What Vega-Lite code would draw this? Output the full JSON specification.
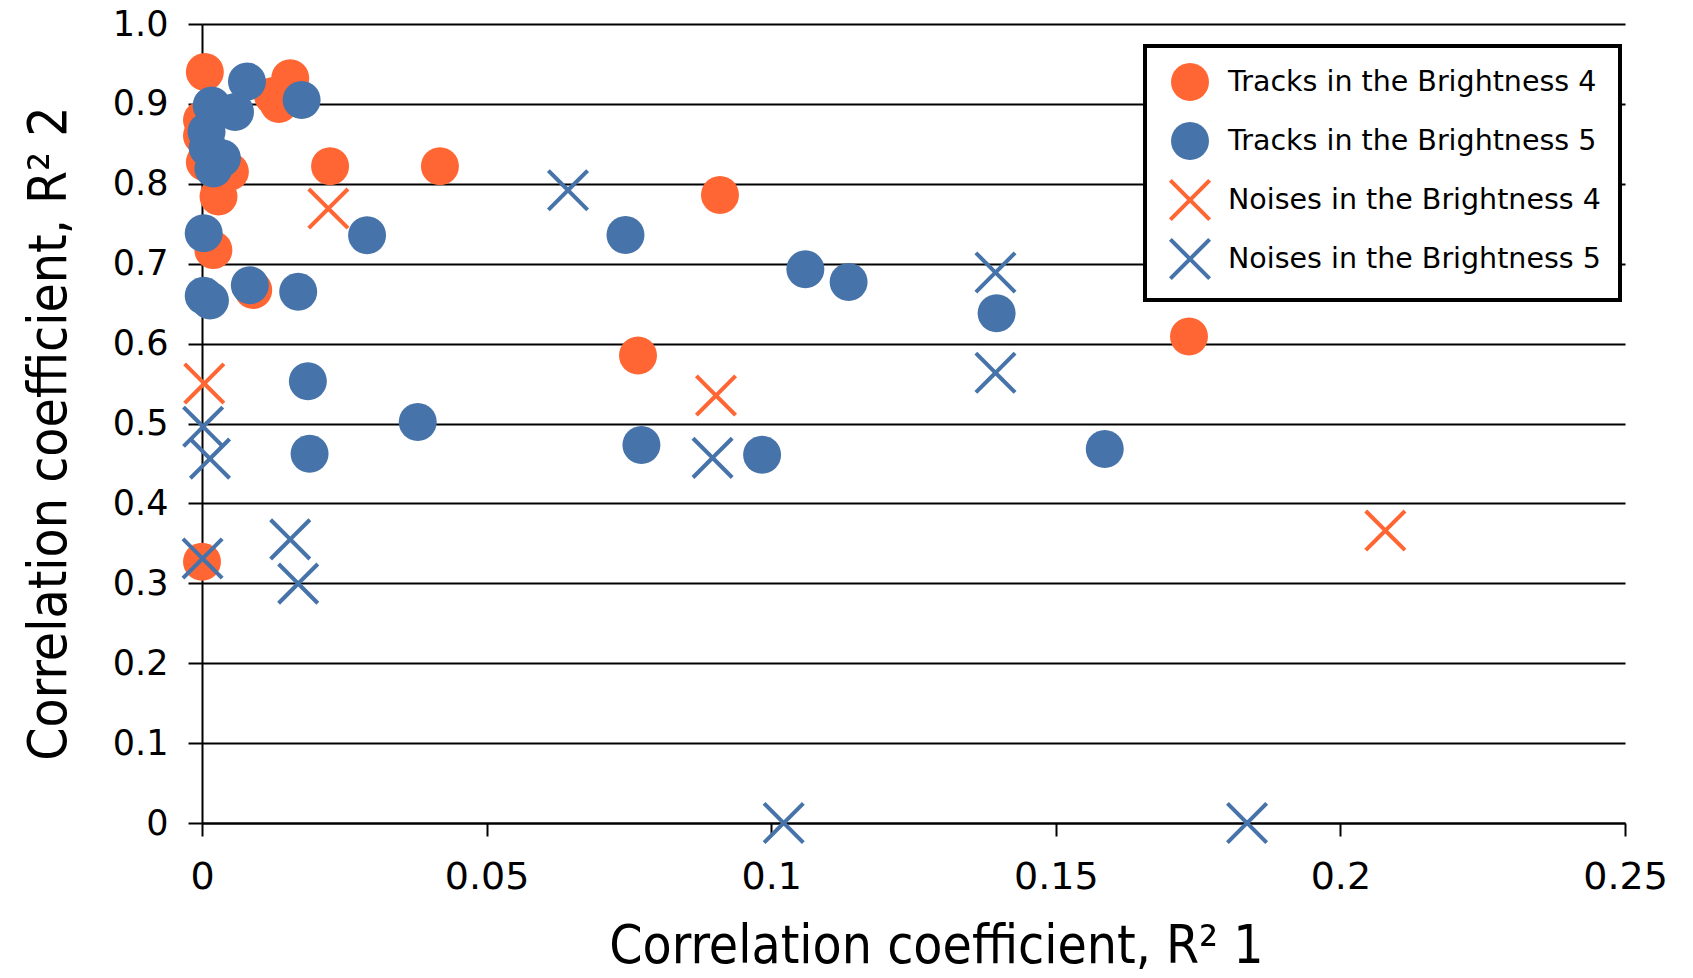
{
  "$schema": "https://vega.github.io/schema/vega-lite/v6.json",
  "width": 1423,
  "height": 799,
  "autosize": {"type": "none"},
  "padding": {"left": 202, "top": 24, "right": 68, "bottom": 155},
  "background": "white",
  "config": {"view": {"stroke": null}},
  "data": {
    "values": [
      {"series": "Tracks in the Brightness 4", "r1": 0.0005, "r2": 0.94},
      {"series": "Tracks in the Brightness 4", "r1": 0.0155, "r2": 0.932},
      {"series": "Tracks in the Brightness 4", "r1": 0.0125, "r2": 0.91},
      {"series": "Tracks in the Brightness 4", "r1": 0.0135, "r2": 0.9},
      {"series": "Tracks in the Brightness 4", "r1": 0.0, "r2": 0.88},
      {"series": "Tracks in the Brightness 4", "r1": 0.0, "r2": 0.86},
      {"series": "Tracks in the Brightness 4", "r1": 0.0005, "r2": 0.827},
      {"series": "Tracks in the Brightness 4", "r1": 0.0049, "r2": 0.815},
      {"series": "Tracks in the Brightness 4", "r1": 0.0029, "r2": 0.784},
      {"series": "Tracks in the Brightness 4", "r1": 0.0225, "r2": 0.822},
      {"series": "Tracks in the Brightness 4", "r1": 0.0418, "r2": 0.822},
      {"series": "Tracks in the Brightness 4", "r1": 0.002, "r2": 0.717},
      {"series": "Tracks in the Brightness 4", "r1": 0.009, "r2": 0.667},
      {"series": "Tracks in the Brightness 4", "r1": 0.091, "r2": 0.786},
      {"series": "Tracks in the Brightness 4", "r1": 0.0766, "r2": 0.585},
      {"series": "Tracks in the Brightness 4", "r1": 0.1734, "r2": 0.609},
      {"series": "Tracks in the Brightness 4", "r1": 0.0, "r2": 0.327},
      {"series": "Tracks in the Brightness 5", "r1": 0.0079, "r2": 0.928},
      {"series": "Tracks in the Brightness 5", "r1": 0.0175, "r2": 0.905},
      {"series": "Tracks in the Brightness 5", "r1": 0.0017, "r2": 0.898},
      {"series": "Tracks in the Brightness 5", "r1": 0.0058, "r2": 0.89},
      {"series": "Tracks in the Brightness 5", "r1": 0.0008, "r2": 0.865},
      {"series": "Tracks in the Brightness 5", "r1": 0.001, "r2": 0.845},
      {"series": "Tracks in the Brightness 5", "r1": 0.0035, "r2": 0.832},
      {"series": "Tracks in the Brightness 5", "r1": 0.002, "r2": 0.819},
      {"series": "Tracks in the Brightness 5", "r1": 0.0003, "r2": 0.738},
      {"series": "Tracks in the Brightness 5", "r1": 0.029, "r2": 0.7355},
      {"series": "Tracks in the Brightness 5", "r1": 0.0003, "r2": 0.66},
      {"series": "Tracks in the Brightness 5", "r1": 0.0014, "r2": 0.654},
      {"series": "Tracks in the Brightness 5", "r1": 0.0084, "r2": 0.673},
      {"series": "Tracks in the Brightness 5", "r1": 0.0169, "r2": 0.665},
      {"series": "Tracks in the Brightness 5", "r1": 0.0744, "r2": 0.736},
      {"series": "Tracks in the Brightness 5", "r1": 0.106, "r2": 0.693},
      {"series": "Tracks in the Brightness 5", "r1": 0.1136, "r2": 0.677},
      {"series": "Tracks in the Brightness 5", "r1": 0.1396, "r2": 0.638},
      {"series": "Tracks in the Brightness 5", "r1": 0.0186, "r2": 0.553},
      {"series": "Tracks in the Brightness 5", "r1": 0.0189, "r2": 0.462},
      {"series": "Tracks in the Brightness 5", "r1": 0.0379, "r2": 0.502},
      {"series": "Tracks in the Brightness 5", "r1": 0.0772, "r2": 0.473},
      {"series": "Tracks in the Brightness 5", "r1": 0.0984, "r2": 0.461},
      {"series": "Tracks in the Brightness 5", "r1": 0.1586, "r2": 0.468},
      {"series": "Noises in the Brightness 4", "r1": 0.0222, "r2": 0.769},
      {"series": "Noises in the Brightness 4", "r1": 0.0004, "r2": 0.55},
      {"series": "Noises in the Brightness 4", "r1": 0.0903, "r2": 0.535},
      {"series": "Noises in the Brightness 4", "r1": 0.2079, "r2": 0.366},
      {"series": "Noises in the Brightness 5", "r1": 0.0643, "r2": 0.792},
      {"series": "Noises in the Brightness 5", "r1": 0.1394, "r2": 0.689},
      {"series": "Noises in the Brightness 5", "r1": 0.1394, "r2": 0.5635},
      {"series": "Noises in the Brightness 5", "r1": 0.0897, "r2": 0.457},
      {"series": "Noises in the Brightness 5", "r1": 0.0002, "r2": 0.496},
      {"series": "Noises in the Brightness 5", "r1": 0.0014, "r2": 0.456},
      {"series": "Noises in the Brightness 5", "r1": 0.0001, "r2": 0.331},
      {"series": "Noises in the Brightness 5", "r1": 0.0155, "r2": 0.355},
      {"series": "Noises in the Brightness 5", "r1": 0.0169, "r2": 0.2996},
      {"series": "Noises in the Brightness 5", "r1": 0.1022, "r2": 0.0},
      {"series": "Noises in the Brightness 5", "r1": 0.1836, "r2": 0.0}
    ]
  },
  "mark": {"type": "point", "filled": true, "opacity": 1, "size": 1134, "strokeWidth": 0},
  "encoding": {
    "x": {
      "field": "r1",
      "type": "quantitative",
      "scale": {"domain": [0, 0.25], "nice": false},
      "axis": {
        "values": [0, 0.05, 0.1, 0.15, 0.2, 0.25],
        "format": "~g",
        "grid": false,
        "domainColor": "black",
        "domainWidth": 2,
        "tickColor": "black",
        "tickWidth": 2,
        "tickSize": 13,
        "labelFont": "DejaVu Sans",
        "labelFontSize": 38,
        "labelColor": "black",
        "labelPadding": 22,
        "labelFlush": false,
        "labelOverlap": false,
        "title": "Correlation coefficient, R² 1",
        "titleFont": "DejaVu Sans Condensed",
        "titleFontSize": 53,
        "titleFontWeight": "normal",
        "titleColor": "black",
        "titlePadding": 24,
        "titleX": 734
      }
    },
    "y": {
      "field": "r2",
      "type": "quantitative",
      "scale": {"domain": [0, 1], "nice": false},
      "axis": {
        "values": [0, 0.1, 0.2, 0.3, 0.4, 0.5, 0.6, 0.7, 0.8, 0.9, 1.0],
        "labelExpr": "datum.value == 0 ? '0' : format(datum.value, '.1f')",
        "grid": true,
        "gridColor": "black",
        "gridWidth": 2,
        "gridOpacity": 1,
        "domainColor": "black",
        "domainWidth": 2,
        "tickColor": "black",
        "tickWidth": 2,
        "tickSize": 14,
        "labelFont": "DejaVu Sans",
        "labelFontSize": 35,
        "labelColor": "black",
        "labelPadding": 20,
        "labelFlush": false,
        "labelOverlap": false,
        "title": "Correlation coefficient, R² 2",
        "titleFont": "DejaVu Sans Condensed",
        "titleFontSize": 53,
        "titleFontWeight": "normal",
        "titleColor": "black",
        "titlePadding": 36,
        "titleY": 409
      }
    },
    "color": {
      "field": "series",
      "type": "nominal",
      "scale": {
        "domain": ["Tracks in the Brightness 4", "Tracks in the Brightness 5", "Noises in the Brightness 4", "Noises in the Brightness 5"],
        "range": ["#FF6633", "#4673A9", "#FF6633", "#4673A9"]
      },
      "legend": {
        "orient": "none",
        "legendX": 943,
        "legendY": 22,
        "title": null,
        "padding": 19,
        "strokeColor": "black",
        "fillColor": "white",
        "labelFont": "DejaVu Sans",
        "labelFontSize": 28.5,
        "labelColor": "black",
        "labelOffset": 21,
        "labelLimit": 0,
        "rowPadding": 15,
        "symbolOffset": 9,
        "symbolSize": 1134,
        "symbolOpacity": 1,
        "symbolStrokeWidth": 0,
        "encode": {"legend": {"update": {"strokeWidth": {"value": 4}}}}
      }
    },
    "shape": {
      "field": "series",
      "type": "nominal",
      "scale": {
        "domain": ["Tracks in the Brightness 4", "Tracks in the Brightness 5", "Noises in the Brightness 4", "Noises in the Brightness 5"],
        "range": [
          "M1.128,0A1.128,1.128 0 1,1 -1.128,0A1.128,1.128 0 1,1 1.128,0ZM-1.25,-1.25M1.25,1.25",
          "M1.128,0A1.128,1.128 0 1,1 -1.128,0A1.128,1.128 0 1,1 1.128,0ZM-1.25,-1.25M1.25,1.25",
          "M-1.08,-1.25L0,-0.17L1.08,-1.25L1.25,-1.08L0.17,0L1.25,1.08L1.08,1.25L0,0.17L-1.08,1.25L-1.25,1.08L-0.17,0L-1.25,-1.08Z",
          "M-1.08,-1.25L0,-0.17L1.08,-1.25L1.25,-1.08L0.17,0L1.25,1.08L1.08,1.25L0,0.17L-1.08,1.25L-1.25,1.08L-0.17,0L-1.25,-1.08Z"]
      }
    }
  }
}
